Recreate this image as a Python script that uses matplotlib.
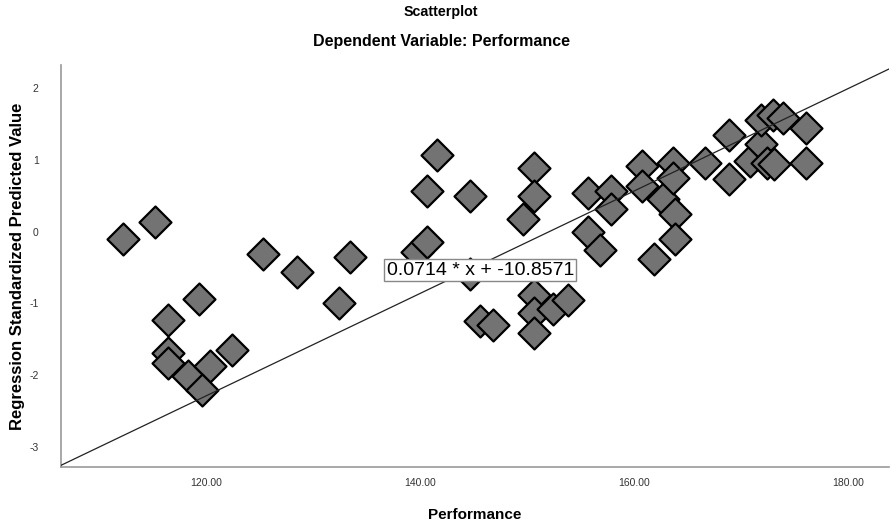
import numpy as np
import matplotlib.pyplot as plt

plt.rcParams['font.family'] = ['Liberation Sans', 'DejaVu Sans']
plt.rcParams['axes.unicode_minus'] = False

# Performance vs regression standardized predicted value
performance = [112.2, 115.2, 116.4, 119.3, 116.4, 116.4, 118.3, 120.4, 119.6, 122.4,
               125.3, 128.5, 132.4, 133.4, 139.7, 140.6, 140.6, 141.6, 144.6, 144.6,
               145.6, 146.8, 149.6, 150.6, 150.6, 150.6, 150.6, 150.6, 152.4, 153.8,
               155.7, 155.7, 156.8, 157.8, 157.8, 160.7, 160.7, 161.8, 162.7, 163.6,
               163.6, 163.8, 163.8, 166.6, 168.8, 168.8, 170.8, 171.8, 171.8, 172.4,
               172.9, 173.0, 173.9, 176.0, 176.0]
predicted = [-0.10, 0.13, -1.23, -0.94, -1.69, -1.83, -2.01, -1.87, -2.21, -1.65,
             -0.31, -0.56, -0.99, -0.35, -0.28, -0.14, 0.56, 1.06, 0.49, -0.59,
             -1.24, -1.30, 0.18, 0.89, 0.49, -0.89, -1.13, -1.41, -1.08, -0.96,
             0.54, 0.00, -0.25, 0.56, 0.32, 0.92, 0.63, -0.38, 0.46, 0.96,
             0.75, 0.25, -0.10, 0.96, 1.34, 0.73, 0.99, 1.22, 1.55, 0.96,
             1.62, 0.94, 1.58, 1.44, 0.96]
slope, intercept = 0.0714, -10.8571
xlim = (106.45, 183.8)
ylim = (-3.28, 2.32)

fig = plt.figure(figsize=(8.91, 5.22), dpi=100)
ax = fig.add_axes([0.0685, 0.1054, 0.9295, 0.77])

xs = np.array(xlim)
ax.plot(xs, slope * xs + intercept, color='#222222', lw=0.9, zorder=3)
ax.scatter(performance, predicted, marker='D', s=265, facecolor='#737373',
           edgecolor='black', linewidth=1.6, zorder=2)

ax.text(145.6, -0.54, '0.0714 * x + -10.8571', fontsize=14, ha='center', va='center',
        bbox=dict(boxstyle='square,pad=0.12', fc='white', ec='#888888', lw=1), zorder=4)

ax.set_xlim(xlim)
ax.set_ylim(ylim)
ax.set_xticks([120, 140, 160, 180])
ax.set_xticklabels(['120.00', '140.00', '160.00', '180.00'])
ax.set_yticks([-3, -2, -1, 0, 1, 2])
ax.tick_params(length=0, labelsize=7.5, labelcolor='#333333')
ax.tick_params(axis='x', pad=8)
ax.tick_params(axis='y', pad=16)
for s in ['top', 'right']:
    ax.spines[s].set_visible(False)
for s in ['left', 'bottom']:
    ax.spines[s].set_color('#999999')
    ax.spines[s].set_linewidth(1.2)

ax.set_xlabel('Performance', fontsize=11, fontweight='bold', labelpad=14)
ax.set_ylabel('Regression Standardized Predicted Value', fontsize=12, fontweight='bold')
ax.yaxis.set_label_coords(-0.043, 0.5)
fig.text(0.495, 0.99, 'Scatterplot', fontsize=10.3, fontweight='bold', ha='center', va='top')
fig.text(0.495, 0.935, 'Dependent Variable: Performance', fontsize=11.5, fontweight='bold', ha='center', va='top')

fig.savefig('out.png', dpi=100)
